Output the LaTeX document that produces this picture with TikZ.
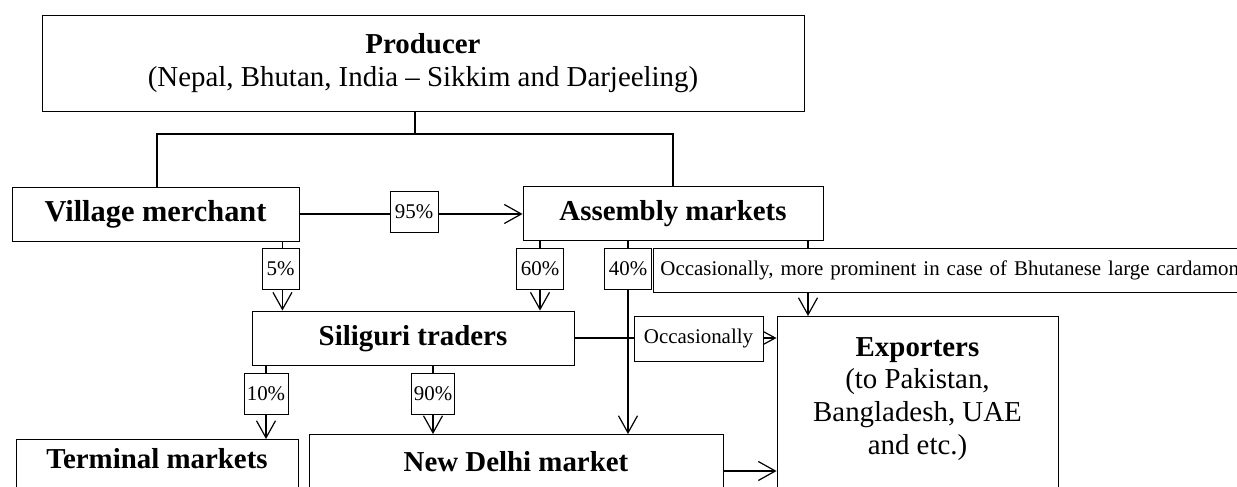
\documentclass[tikz,border=0pt]{standalone}
\usepackage{fontspec}
\setmainfont{Liberation Serif}
\usetikzlibrary{arrows.meta}
\begin{document}
\begin{tikzpicture}[x=1bp,y=-1bp,
  box/.style={draw, line width=0.9bp, inner sep=0pt, font=\fontsize{29}{33}\selectfont\bfseries},
  one/.style={text height=20bp, text depth=4bp},
  lab/.style={draw, fill=white, line width=0.9bp, inner sep=0pt, font=\fontsize{21}{24}\selectfont, minimum height=41bp},
  conn/.style={line width=1.6bp},
  thin/.style={line width=1.2bp},
  arr/.style={line width=1.2bp, -{Straight Barb[length=17bp,width=19bp,line width=1.2bp]}},
  arrs/.style={line width=1.2bp, -{Straight Barb[length=13bp,width=14bp,line width=1.2bp]}},
]
\useasboundingbox (0,0) rectangle (1237,487);
\clip (0,0) rectangle (1237,487);

% boxes
\node[box, minimum width=762bp, minimum height=96bp, align=center] (prod) at (423,63)
  {Producer\\\mdseries (Nepal, Bhutan, India – Sikkim and Darjeeling)};
\node[box, one, minimum width=287bp, minimum height=54bp, font=\fontsize{30.5}{33}\selectfont\bfseries] (vm) at (155.5,214) {Village merchant};
\node[box, one, minimum width=300bp, minimum height=54bp] (am) at (673,213) {Assembly markets};
\node[box, one, minimum width=322bp, minimum height=54bp] (sil) at (413,338) {Siliguri traders};
\node[box, minimum width=281bp, minimum height=200bp, anchor=north] (exp) at (917.5,316) {};
\node[inner sep=0pt, anchor=north, align=center, font=\fontsize{29}{33}\selectfont] (exptxt) at (917.5,337)
  {\bfseries Exporters\\(to Pakistan,\\Bangladesh, UAE\\and etc.)};
\node[box, anchor=north, minimum width=282bp, text height=29bp, text depth=40bp] (term) at (157,439) {Terminal markets};
\node[box, anchor=north, minimum width=414bp, text height=37bp, text depth=40bp] (nd) at (516,434) {New Delhi market};

% producer tree
\coordinate (j) at (415,134);
\coordinate (jl) at (157,134);
\coordinate (jr) at (673,134);
\draw[conn] (prod.south -| j) -- (j);
\draw[conn] (vm.north -| jl) -- (jl) -- (jr) -- (am.north -| jr);

% 95%
\draw[arr] (vm.east) -- (vm.east -| am.west);
\node[lab, minimum width=48bp] (l95) at (414,212) {95\%};

% 5%
\node[lab, minimum width=37bp] (l5) at (280.5,268.5) {5\%};
\draw[thin] ([xshift=-17bp]vm.south east) -- ([xshift=-17bp]vm.south east |- l5.north);
\draw[arr] ([xshift=-17bp]vm.south east |- l5.south) -- ([xshift=-17bp]vm.south east |- sil.north);

% 60%
\node[lab, minimum width=47bp] (l60) at (540,268.5) {60\%};
\draw[thin] (am.south -| l60) -- (l60.north);
\draw[arr] (l60.south) -- (sil.north -| l60);

% 40%
\node[lab, minimum width=47bp] (l40) at (628,268.5) {40\%};
\draw[thin] (am.south -| l40) -- (l40.north);
\draw[arr] (l40.south) -- (nd.north -| l40);

% occasionally, more prominent
\coordinate (xo) at (808,300);
\node[lab, anchor=west, minimum height=44bp, minimum width=700bp, inner xsep=7bp, text width=686bp, align=left] (lbig) at (653,270)
  {Occasionally, more prominent in case of Bhutanese large cardamom};
\draw[thin] (am.south -| xo) -- (lbig.north -| xo);
\draw[arr] (lbig.south -| xo) -- (exp.north -| xo);

% Siliguri -> Exporters
\draw[arrs] (sil.east) -- (sil.east -| exp.west);
\node[lab, minimum width=129bp, minimum height=45bp] (locc) at (698.5,338.5) {Occasionally};

% 10% and 90%
\node[lab, minimum width=44bp] (l10) at (266,393.5) {10\%};
\draw[thin] (sil.south -| l10) -- (l10.north);
\draw[arr] (l10.south) -- (term.north -| l10);
\node[lab, minimum width=43bp] (l90) at (433,393.5) {90\%};
\draw[thin] (sil.south -| l90) -- (l90.north);
\draw[arr] (l90.south) -- (nd.north -| l90);

% New Delhi -> Exporters
\draw[arr] ([yshift=-37bp]nd.north east) -- ([yshift=-37bp]nd.north east -| exp.west);
\end{tikzpicture}
\end{document}
